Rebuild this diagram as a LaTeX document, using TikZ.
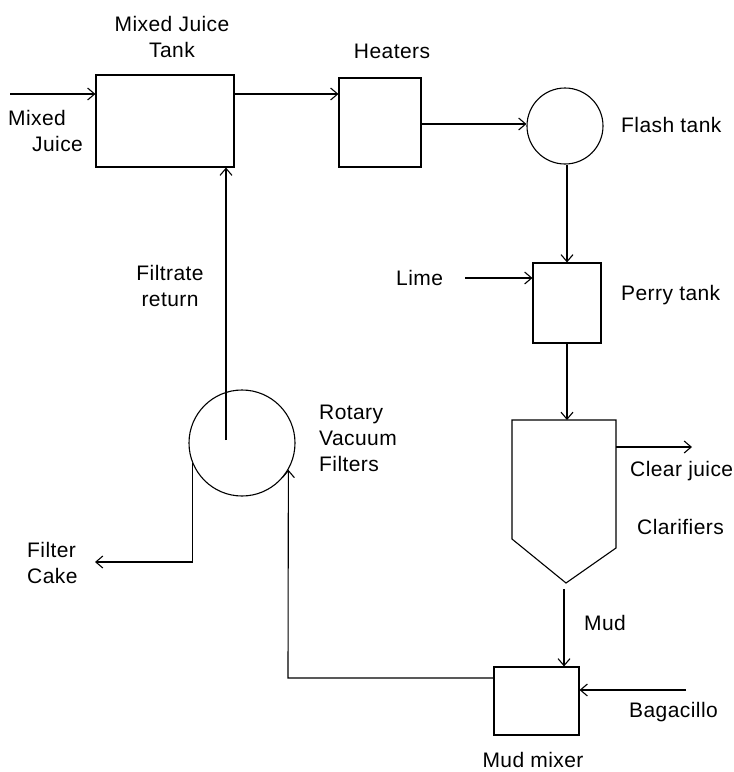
\documentclass[tikz,border=0pt]{standalone}
\usepackage{fontspec}
\setmainfont[LetterSpace=2]{Liberation Sans}
\usetikzlibrary{arrows.meta, positioning, calc}

\begin{document}
\begin{tikzpicture}[
    x=1pt, y=-1pt,
    tank/.style={rectangle, draw, line width=1.1pt, minimum width=#1, inner sep=0pt},
    vessel/.style={circle, draw, line width=1.1pt, minimum size=#1, inner sep=0pt},
    flow/.style={-{Straight Barb[length=7pt, width=12pt]}, line width=1.1pt},
    pipe/.style={line width=1.1pt},
    label/.style={font=\fontsize{21}{26}\selectfont, inner sep=0pt}
]
\useasboundingbox (0,0) rectangle (734,772);

% units
\node[tank=138pt, minimum height=92pt] (mjt)   at (165,121)   {};
\node[tank=82pt,  minimum height=89pt] (heat)  at (380,122.5) {};
\node[vessel=76pt]                     (flash) at (565,126)   {};
\node[tank=68pt,  minimum height=80pt] (perry) at (567,303)   {};
\node[vessel=106pt]                    (rvf)   at (242,443)   {};
\node[tank=85pt,  minimum height=68pt] (mix)   at (536.5,701) {};

% clarifier
\coordinate (clnw)  at (512,420);
\coordinate (clne)  at (616,420);
\coordinate (clse)  at (616,548);
\coordinate (cltip) at (566,583);
\coordinate (clsw)  at (512,539);
\draw[pipe, line join=miter] (clnw) -- (clne) -- (clse) -- (cltip) -- (clsw) -- cycle;

% free ends
\coordinate (mjin)   at (10,94);
\coordinate (limein) at (465,278);
\coordinate (cjout)  at (692,447);
\coordinate (mudtop) at (564,589);
\coordinate (bagin)  at (686,690);
\coordinate (retcnr) at (288,678);
\coordinate (filt)   at (226,440);
\coordinate (cake)   at (95,562);

% flows
\draw[flow] (mjin) -- (mjin -| mjt.west);
\draw[flow] (mjt.east |- mjin) -- (mjin -| heat.west);
\draw[flow] (heat.east |- 0,124) -- (flash.west |- 0,124);
\draw[flow] (flash.south -| perry.north) -- (perry.north);
\draw[flow] (limein) -- (limein -| perry.west);
\draw[flow] (perry.south) -- (perry.south |- clnw);
\draw[flow] (clne |- cjout) -- (cjout);
\draw[flow] (mudtop) -- (mudtop |- mix.north);
\draw[flow] (bagin) -- (bagin -| mix.east);
\draw[flow] (mix.west |- retcnr) -- (retcnr) -- (rvf.-30);
\draw[flow] (filt) -- (filt |- mjt.south);
\draw[flow] (rvf.202) -- (rvf.202 |- cake) -- (cake);

% labels
\node[label, align=center]            at (172,37)  {Mixed Juice\\Tank};
\node[label]                          at (392,51)  {Heaters};
\node[label, anchor=west]             at (621,125) {Flash tank};
\node[label, anchor=west]             at (396,278) {Lime};
\node[label, anchor=west]             at (621,295) {Perry tank};
\node[label, anchor=west, align=left] at (8,131)   {Mixed\\\hspace*{24pt}Juice};
\node[label, align=center]            at (170,286) {Filtrate\\return};
\node[label, anchor=west, align=left] at (319,438) {Rotary\\Vacuum\\Filters};
\node[label, anchor=west]             at (630,471) {Clear juice};
\node[label, anchor=west]             at (637,527) {Clarifiers};
\node[label, anchor=west, align=left] at (27,563)  {Filter\\Cake};
\node[label, anchor=west]             at (584,623) {Mud};
\node[label, anchor=west]             at (629,712) {Bagacillo};
\node[label]                          at (533,760) {Mud mixer};
\end{tikzpicture}
\end{document}
